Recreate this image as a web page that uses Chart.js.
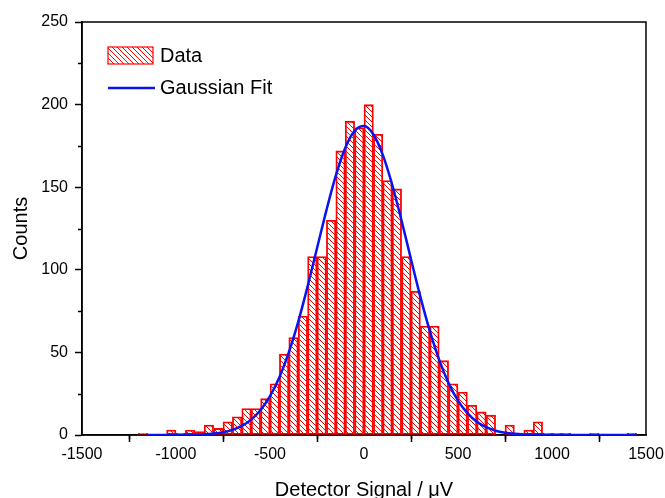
<!DOCTYPE html>
<html>
<head>
<meta charset="utf-8">
<script src="https://cdn.jsdelivr.net/npm/chart.js@4.4.1/dist/chart.umd.min.js"></script>
<style>
  html, body { margin: 0; padding: 0; background: #fff; }
</style>
</head>
<body>
<canvas id="chart" width="665" height="498"></canvas>
<script>
// histogram bins (centre of each 50 µV bin) and counts
const binCenter = [
  -1175, -1125, -1075, -1025, -975, -925, -875, -825, -775, -725,
  -675, -625, -575, -525, -475, -425, -375, -325, -275, -225,
  -175, -125, -75, -25, 25, 75, 125, 175, 225, 275,
  325, 375, 425, 475, 525, 575, 625, 675, 725, 775,
  825, 875, 925, 975, 1025, 1075, 1125, 1175, 1225, 1275,
  1325, 1375, 1425
];
const counts = [
  1, 0, 0, 3, 1, 3, 2, 6, 4, 8,
  11, 16, 16, 22, 31, 49, 59, 72, 108, 108,
  130, 172, 190, 186, 200, 182, 154, 149, 108, 87,
  66, 66, 45, 31, 26, 18, 14, 12, 0, 6,
  0, 3, 8, 1, 1, 1, 0, 0, 1, 0,
  0, 0, 1
];

// gaussian fit curve
const fitX = [
  -1150, -1100, -1050, -1000, -950, -900, -850, -800, -750, -700,
  -650, -600, -550, -500, -450, -400, -350, -300, -250, -200,
  -150, -100, -50, 0, 50, 100, 150, 200, 250, 300,
  350, 400, 450, 500, 550, 600, 650, 700, 750, 800,
  850, 900, 950, 1000, 1050, 1100, 1150, 1200, 1250, 1300,
  1350, 1400, 1450
];
const fitY = [
  0, 0, 0, 0, 0.1, 0.2, 0.4, 0.9, 1.7, 3.1,
  5.5, 9.3, 15.1, 23.5, 35, 50, 68.5, 90, 113, 136,
  157, 173.7, 184.1, 187, 181.9, 169.6, 151.5, 129.7, 106.4, 83.6,
  63, 45.5, 31.4, 20.8, 13.2, 8.0, 4.7, 2.6, 1.4, 0.7,
  0.35, 0.2, 0.1, 0, 0, 0, 0, 0, 0, 0,
  0, 0, 0
];

const xTicks = [-1500, -1000, -500, 0, 500, 1000, 1500];
const xMinor = [-1250, -750, -250, 250, 750, 1250];
const yMinor = [25, 75, 125, 175, 225];

const RED = '#ff0000';
const BLUE = '#0a14f0';
const FONT = 'Arial, "Liberation Sans", sans-serif';

Chart.defaults.font.family = FONT;
Chart.defaults.color = '#000';

function makeHatch(color, size) {
  const c = document.createElement('canvas');
  c.width = c.height = size;
  const g = c.getContext('2d');
  g.strokeStyle = color;
  g.lineWidth = 1;
  g.beginPath();
  g.moveTo(0, 0); g.lineTo(size, size);
  g.moveTo(-1, size - 1); g.lineTo(1, size + 1);
  g.moveTo(size - 1, -1); g.lineTo(size + 1, 1);
  g.stroke();
  return g.createPattern(c, 'repeat');
}
const hatch = makeHatch(RED, 5);

// frame + minor ticks, drawn under the curve
const frame = {
  id: 'frame',
  beforeDatasetsDraw(chart) {
    const { ctx, chartArea: a, scales: { x, y } } = chart;
    ctx.save();
    ctx.strokeStyle = '#000';
    ctx.lineWidth = 1.5;
    ctx.strokeRect(a.left, a.top, a.right - a.left, a.bottom - a.top);
    ctx.beginPath();
    xMinor.forEach(v => {
      const px = Math.round(x.getPixelForValue(v)) + 0.5;
      ctx.moveTo(px, a.bottom); ctx.lineTo(px, a.bottom + 4);
    });
    yMinor.forEach(v => {
      const py = Math.round(y.getPixelForValue(v)) + 0.5;
      ctx.moveTo(a.left, py); ctx.lineTo(a.left - 4, py);
    });
    ctx.stroke();
    ctx.restore();
  }
};

const legendBox = {
  id: 'legendBox',
  afterDraw(chart) {
    const { ctx, chartArea: a } = chart;
    const x0 = a.left + 26, y0 = a.top + 25;
    ctx.save();
    ctx.fillStyle = hatch;
    ctx.fillRect(x0, y0, 45, 17);
    ctx.strokeStyle = RED;
    ctx.lineWidth = 1.2;
    ctx.strokeRect(x0, y0, 45, 17);
    ctx.strokeStyle = BLUE;
    ctx.lineWidth = 2.5;
    ctx.beginPath();
    ctx.moveTo(x0, y0 + 41); ctx.lineTo(x0 + 47, y0 + 41);
    ctx.stroke();
    ctx.fillStyle = '#000';
    ctx.font = '20px ' + FONT;
    ctx.textBaseline = 'middle';
    ctx.fillText('Data', x0 + 52, y0 + 9);
    ctx.fillText('Gaussian Fit', x0 + 52, y0 + 41);
    ctx.restore();
  }
};

new Chart(document.getElementById('chart'), {
  type: 'bar',
  data: {
    datasets: [
      {
        type: 'line',
        label: 'Gaussian Fit',
        data: fitX.map((v, i) => ({ x: v, y: fitY[i] })),
        borderColor: BLUE,
        borderWidth: 2.5,
        pointRadius: 0,
        cubicInterpolationMode: 'monotone',
        fill: false,
        order: 0
      },
      {
        label: 'Data',
        data: binCenter.map((v, i) => ({ x: v, y: counts[i] })),
        backgroundColor: hatch,
        borderColor: RED,
        borderWidth: c => (c.raw && c.raw.y > 0 ? 1.2 : 0),
        borderSkipped: false,
        barPercentage: 1,
        categoryPercentage: 1,
        order: 1
      }
    ]
  },
  options: {
    responsive: false,
    animation: false,
    layout: { padding: { top: 22, right: 19, left: 0, bottom: 0 } },
    plugins: { legend: { display: false }, tooltip: { enabled: false } },
    scales: {
      x: {
        type: 'linear',
        min: -1500,
        max: 1500,
        offset: false,
        afterBuildTicks: s => { s.ticks = xTicks.map(v => ({ value: v })); },
        ticks: { font: { size: 16 }, color: '#000', padding: 3, maxRotation: 0, autoSkip: false, callback: v => String(v) },
        grid: { drawOnChartArea: false, tickLength: 7, tickWidth: 1.5, tickColor: '#000' },
        border: { color: '#000', width: 1.5 },
        title: { display: true, text: 'Detector Signal / μV', font: { size: 20, lineHeight: 1 }, color: '#000', padding: { top: 0, bottom: -2 } },
        afterFit: s => { s.height = 63; s.paddingLeft = 0; s.paddingRight = 0; }
      },
      y: {
        min: 0,
        max: 250,
        ticks: { stepSize: 50, font: { size: 16 }, color: '#000', padding: 7, callback: v => String(v) },
        grid: { drawOnChartArea: false, tickLength: 7, tickWidth: 1.5, tickColor: '#000' },
        border: { color: '#000', width: 1.5 },
        title: { display: true, text: 'Counts', font: { size: 20, lineHeight: 1.2 }, color: '#000', padding: { top: 9, bottom: 0 } },
        afterFit: s => { s.width = 82; s.paddingTop = 0; s.paddingBottom = 0; }
      }
    }
  },
  plugins: [frame, legendBox]
});
</script>
</body>
</html>
